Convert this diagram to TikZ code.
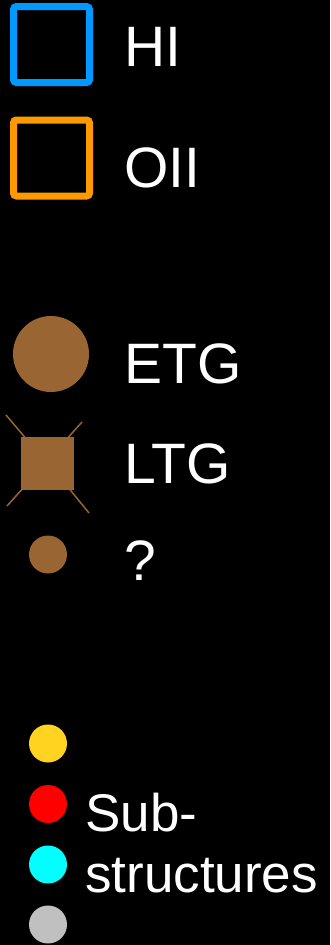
\documentclass[tikz,border=0pt]{standalone}
\usepackage{fontspec}
\setmainfont{Liberation Sans}
\usepackage{xcolor}
\usetikzlibrary{positioning}
\definecolor{hiblue}{RGB}{0,153,255}
\definecolor{oiiorange}{RGB}{255,153,0}
\definecolor{galbrown}{RGB}{153,102,51}
\definecolor{subyellow}{RGB}{255,211,32}
\definecolor{subcyan}{RGB}{0,255,255}
\definecolor{subgrey}{RGB}{192,192,192}
\tikzset{
    legbox/.style={rectangle, draw, line width=7pt, rounded corners=3pt, minimum size=76pt, inner sep=0pt},
    galaxy/.style={circle, fill=galbrown, inner sep=0pt},
    subdot/.style={circle, inner sep=0pt, minimum size=38pt},
    arm/.style={draw=galbrown, line width=1.5pt},
    label/.style={anchor=base west, inner sep=0pt, text=white, font=\fontsize{57}{68}\selectfont}
}
\begin{document}
\begin{tikzpicture}[x=1pt, y=-1pt]
    \fill[black] (0,0) rectangle (330,945);
    \useasboundingbox (0,0) rectangle (330,945);
    % gas tracers
    \node[legbox, draw=hiblue] (hi) at (51.5,44.5) {};
    \node[label] (hilab) at (124,66) {HI};
    \node[legbox, draw=oiiorange] (oii) at (51.5,158) {};
    \node[label] (oiilab) at (124,187) {OII};
    % galaxy types
    \node[galaxy, minimum size=76pt] (etg) at (51,354) {};
    \node[label] (etglab) at (124,383) {ETG};
    \coordinate (armtl) at (6,415);
    \coordinate (armtr) at (82,422);
    \coordinate (armbl) at (7,506);
    \coordinate (armbr) at (89,513);
    \draw[arm] (armtl) -- (28,441);
    \draw[arm] (armtr) -- (65,441);
    \draw[arm] (armbl) -- (25,486);
    \draw[arm] (armbr) -- (67,486);
    \node[rectangle, fill=galbrown, minimum size=53pt, inner sep=0pt] (ltg) at (47.5,463.5) {};
    \node[label] (ltglab) at (124,483) {LTG};
    \node[galaxy, minimum size=38pt] (unk) at (48,554.5) {};
    \node[label] (unklab) at (124,580) {?};
    % substructures
    \node[subdot, fill=subyellow] (suba) at (48,743.5) {};
    \node[subdot, fill=red] (subb) at (48,804) {};
    \node[subdot, fill=subcyan] (subc) at (48,864.5) {};
    \node[subdot, fill=subgrey] (subd) at (48,924.5) {};
    \node[label, font=\fontsize{53}{61}\selectfont, align=left] (sublab) at (85,892) {Sub-\\structures};
\end{tikzpicture}
\end{document}
